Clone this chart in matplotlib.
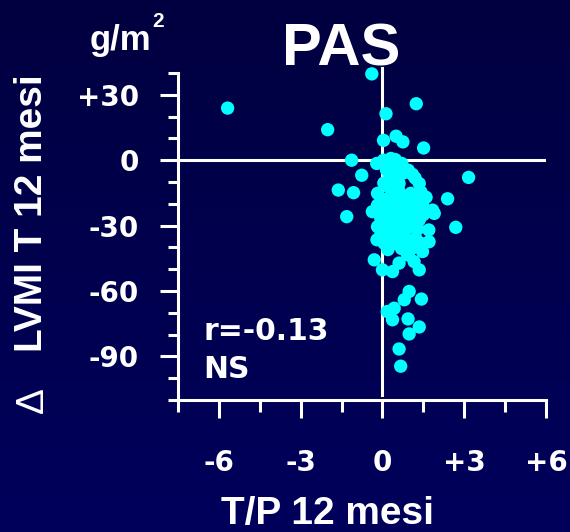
import matplotlib
matplotlib.use("Agg")
import matplotlib.pyplot as plt
import numpy as np

# ---- data ----
x_vals = [-0.39, -5.68, 1.24, 0.13, -2.01, 0.04, 0.50, 0.75, 1.51, -1.13, -0.76, -1.62, -1.06, -1.31, 3.16, 2.39, 2.69,
          -0.21, 0.04, 0.28, 0.47, 0.71, 0.95, 0.53, 0.31,
          0.31, 0.61, 1.35, 1.41, -0.18, 0.43, 0.80, 1.04, -0.37, 0.18, 0.55, 0.92, 1.47, 1.84, 1.90, -0.06, 0.31, 0.67,
          1.10, 1.35, -0.18, 0.18, 0.55, -0.06, 0.31, 0.06, 0.43, 1.22, 1.71, 1.47, 0.98, 0.67, -0.18, 0.80, 0.25,
          0.10, 1.41,
          0.60, 1.20, 1.60, 0.25, 1.20, 0.00, 0.85, 1.50, 0.45, 1.00, 1.30, 0.80, 0.10, 0.60, 0.90, 0.20, 0.70, -0.20,
          1.10, 0.75, 0.50, 0.15, 1.20, 0.05, 1.70, 1.15,
          -0.30, 0.00, 0.37, 0.61, 0.92, 1.16, 1.35, 0.98, 0.80, 1.43, 0.18, 0.43, 0.37, 0.94, 1.35, 0.98, 0.61, 0.67]
y_vals = [39.6, 23.9, 25.9, 21.3, 14.0, 9.1, 11.0, 8.4, 5.6, 0.0, -6.9, -13.7, -14.9, -25.9, -7.9, -17.7, -30.8,
          -1.5, 0.0, -0.8, 0.3, -1.5, -4.6, -3.8, 0.8,
          -7.6, -10.7, -10.7, -14.5, -15.2, -16.8, -16.8, -15.2, -23.6, -21.3, -22.1, -20.6, -19.8, -22.9, -24.4, -26.7,
          -25.9, -25.1, -25.9, -27.4, -30.5, -29.7, -31.2, -34.3, -35.1, -38.1, -38.1, -35.8, -37.4, -41.9, -41.9, -18.3,
          -20.6, -28.5, -12.5, -18.0, -38.1,
          -14.0, -18.5, -17.0, -20.0, -22.0, -23.0, -24.0, -25.0, -28.0, -30.5, -31.5, -33.0, -31.8, -35.5, -37.0,
          -41.0, -40.5, -36.5, -6.5, -6.0, -5.0, -4.5, -8.2, -10.5, -32.0, -40.0,
          -45.7, -50.3, -51.1, -47.2, -43.4, -46.5, -50.3, -60.2, -64.0, -63.7, -69.4, -67.9, -73.2, -72.8, -76.5,
          -79.7, -86.6, -94.5]

x_major = [-6, -3, 0, 3, 6]
x_labels = ["-6", "-3", "0", "+3", "+6"]
x_minor = [-7.5, -4.5, -1.5, 1.5, 4.5]
y_major = [30, 0, -30, -60, -90]
y_labels = ["+30", "0", "-30", "-60", "-90"]
y_minor = [40, 20, 10, -10, -20, -40, -50, -70, -80, -100, -110]

title = "PAS"
xlabel = "T/P 12 mesi"
ylabel = "LVMI T 12 mesi"
unit = "g/m"
stat1 = "r=-0.13"
stat2 = "NS"

W, H = 570, 532
fig = plt.figure(figsize=(W / 100, H / 100), dpi=100)

# background gradient
bg = fig.add_axes([0, 0, 1, 1], zorder=-10)
top = np.array([0x00, 0x00, 0x40]) / 255
bot = np.array([0x00, 0x00, 0x5c]) / 255
t = np.linspace(0, 1, 256)[:, None]
grad = (top[None, :] * (1 - t) + bot[None, :] * t)[:, None, :]
bg.imshow(grad, aspect="auto", extent=[0, 1, 0, 1])
bg.axis("off")

def fx(px):
    return px / W

def fy(py):
    return 1 - py / H

L, R, T, B = 178, 546, 73, 400
ax = fig.add_axes([fx(L), fy(B), (R - L) / W, (B - T) / H])
ax.patch.set_alpha(0)
ax.set_xlim(-7.5, 6)
ax.set_ylim(-110, 40)

lw = 2.2
for s in ["top", "right"]:
    ax.spines[s].set_visible(False)
for s in ["left", "bottom"]:
    ax.spines[s].set_color("white")
    ax.spines[s].set_linewidth(lw)

ax.axhline(0, color="white", lw=lw, zorder=2)
ax.plot([0, 0], [-107.7, 42.3], color="white", lw=lw, clip_on=False, zorder=2)

ax.scatter(x_vals, y_vals, s=92, color="#00FFFF", edgecolors="none", zorder=3, clip_on=False)

ax.set_xticks(x_major)
ax.set_xticklabels(x_labels)
ax.set_xticks(x_minor, minor=True)
ax.set_yticks(y_major)
ax.set_yticklabels(y_labels)
ax.set_yticks(y_minor, minor=True)

ax.tick_params(axis="x", which="major", length=13, width=lw, color="white", pad=22)
ax.tick_params(axis="x", which="minor", length=8.5, width=lw, color="white")
ax.tick_params(axis="y", which="major", length=13, width=lw, color="white", pad=15)
ax.tick_params(axis="y", which="minor", length=7, width=lw, color="white")
for lab in ax.get_xticklabels() + ax.get_yticklabels():
    lab.set_fontfamily("DejaVu Sans")
    lab.set_fontweight("bold")
    lab.set_fontsize(20)
    lab.set_color("white")

# title
fig.text(fx(341), fy(65), title, ha="center", va="baseline", color="white", fontsize=43,
         fontweight="bold", family=["Liberation Sans Narrow", "Liberation Sans"])
# unit
fig.text(fx(90), fy(50), unit, ha="left", va="baseline", color="white", fontsize=25,
         fontweight="bold", family=["Liberation Sans"])
fig.text(fx(152), fy(27), "2", ha="left", va="baseline", color="white", fontsize=15,
         fontweight="bold", family=["Liberation Sans"])
# x label
fig.text(fx(327.5), fy(524), xlabel, ha="center", va="baseline", color="white", fontsize=28,
         fontweight="bold", family=["Liberation Sans"])
# y label
fig.text(fx(42), fy(213), ylabel, ha="center", va="baseline", rotation=90, rotation_mode="anchor",
         color="white", fontsize=28, fontweight="bold", family=["Liberation Sans"])
fig.text(fx(43), fy(400), "\u0394", ha="center", va="baseline", rotation=90, rotation_mode="anchor",
         color="white", fontsize=28, family=["Liberation Sans", "DejaVu Sans"])
# stats
fig.text(fx(203), fy(340), stat1, ha="left", va="baseline", color="white", fontsize=21.5,
         fontweight="bold", family=["DejaVu Sans"])
fig.text(fx(203), fy(378), stat2, ha="left", va="baseline", color="white", fontsize=21.5,
         fontweight="bold", family=["DejaVu Sans"])

fig.savefig("out.png", dpi=100)
